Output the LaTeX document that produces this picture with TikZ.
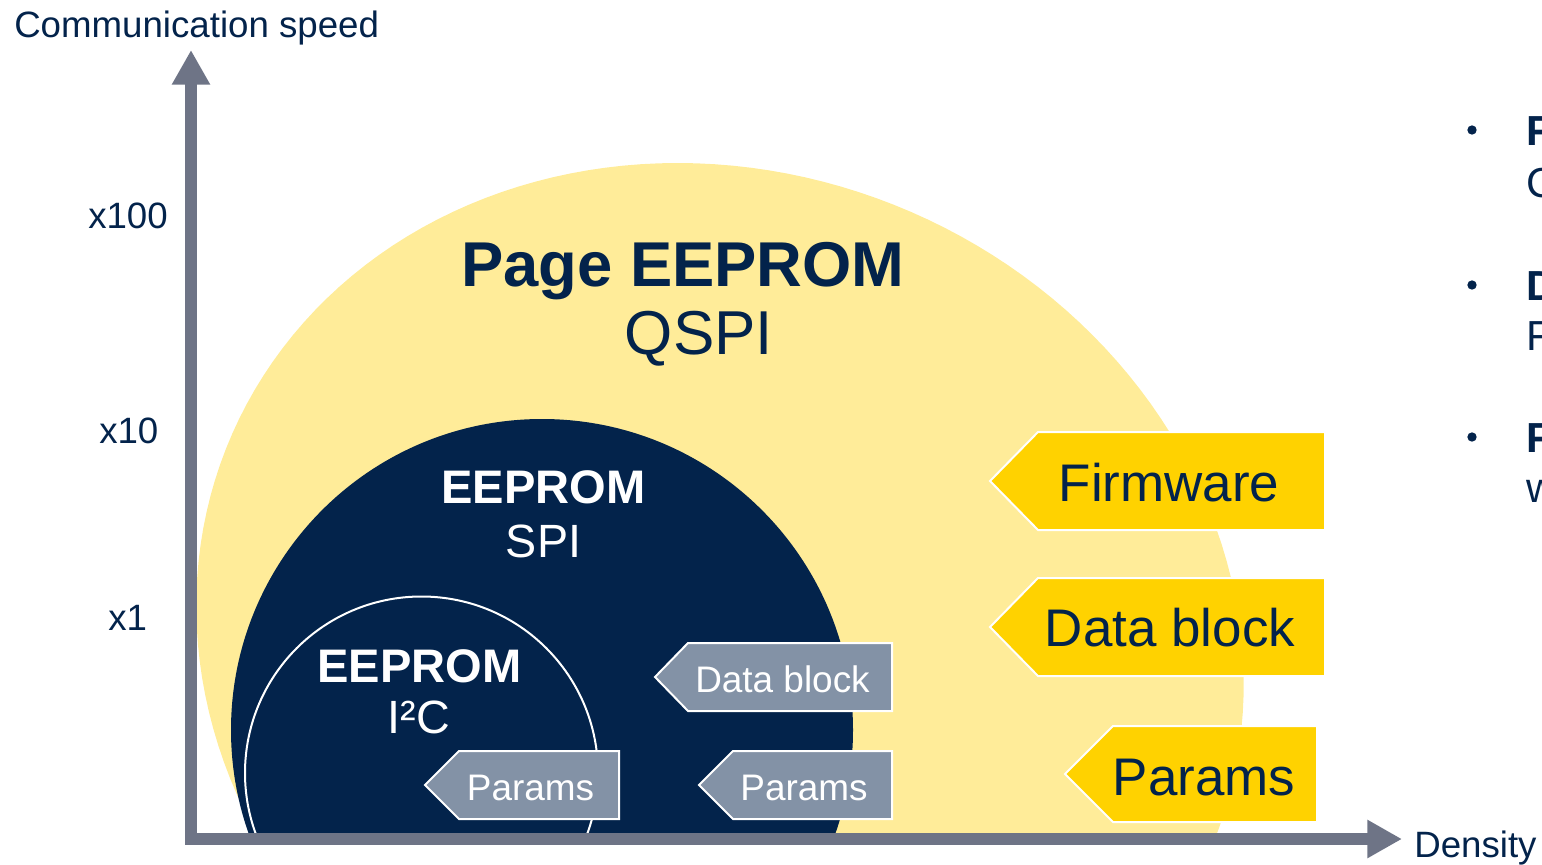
\documentclass[tikz,border=0pt]{standalone}
\usepackage{fontspec}
\setmainfont{Liberation Sans}
\usetikzlibrary{arrows.meta}
\definecolor{navy}{HTML}{03234B}
\definecolor{paleyel}{HTML}{FFEC99}
\definecolor{styel}{HTML}{FFD200}
\definecolor{axisgray}{HTML}{6E7486}
\definecolor{labgray}{HTML}{8392A6}
\tikzset{
  axislbl/.style={text=navy, inner sep=0pt, font=\fontsize{27.5pt}{32pt}\selectfont, anchor=base west},
  bigtitle/.style={text=navy, inner sep=0pt, font=\fontsize{47.5pt}{54pt}\selectfont\bfseries, anchor=base},
  bigsub/.style={text=navy, inner sep=0pt, font=\fontsize{46.5pt}{54pt}\selectfont, anchor=base},
  midtitle/.style={text=white, inner sep=0pt, font=\fontsize{35.3pt}{40pt}\selectfont\bfseries, anchor=base},
  midsub/.style={text=white, inner sep=0pt, font=\fontsize{35pt}{40pt}\selectfont, anchor=base},
  ylabtxt/.style={text=navy, inner sep=0pt, font=\fontsize{39.7pt}{46pt}\selectfont, anchor=base},
  glabtxt/.style={text=white, inner sep=0pt, font=\fontsize{27.7pt}{32pt}\selectfont, anchor=base},
  ylab/.style={fill=styel, draw=white, line width=1.5pt, line join=miter},
  glab/.style={fill=labgray, draw=white, line width=1.5pt, line join=miter},
  axisline/.style={draw=axisgray, line width=8.5pt, line join=miter,
    {Triangle[length=26pt,width=27pt]}-{Triangle[length=26pt,width=27pt]}},
  bul/.style={circle, fill=navy, minimum size=7pt, inner sep=0pt},
  bultxtb/.style={text=navy, inner sep=0pt, font=\fontsize{31.5pt}{36pt}\selectfont\bfseries, anchor=base west},
  bultxt/.style={text=navy, inner sep=0pt, font=\fontsize{31.5pt}{36pt}\selectfont, anchor=base west},
}
\begin{document}
\begin{tikzpicture}[x=0.75pt,y=-0.75pt]
\useasboundingbox (0,0) rectangle (1542,864);
\clip (0,0) rectangle (1542,864);

% shapes, clipped at the axes
\begin{scope}
  \clip (191,0) rectangle (1542,839);
  \fill[paleyel] plot[domain=0:360, samples=181, variable=\t]
     ({720+522*cos(\t)+42.4*sin(\t)}, {645+482*sin(\t)}) -- cycle;
  \node[circle, fill=navy, minimum size=466.5pt, inner sep=0pt] (spi) at (542,730) {};
  \node[circle, fill=navy, draw=white, line width=1.5pt, minimum size=264.75pt, inner sep=0pt] (i2c) at (421.5,773) {};
\end{scope}

% titles
\node[bigtitle] (pagetitle) at (683,286) {Page EEPROM};
\node[bigsub] (qspi) at (699,354) {QSPI};
\node[midtitle] (spititle) at (543.5,503) {EEPROM};
\node[midsub] (spisub) at (543.5,557) {SPI};
\node[midtitle] (i2ctitle) at (419.5,682) {EEPROM};
\node[midsub] (i2csub) at (419,733) {I²C};

% yellow labels
\draw[ylab] (1038,432) -- (1325,432) -- (1325,530) -- (1038,530) -- (990,481) -- cycle;
\node[ylabtxt] (fw) at (1169,501) {Firmware};
\draw[ylab] (1038,578) -- (1325,578) -- (1325,676) -- (1038,676) -- (990,627) -- cycle;
\node[ylabtxt] (dby) at (1170,646) {Data block};
\draw[ylab] (1113,726) -- (1317,726) -- (1317,822) -- (1113,822) -- (1065,774) -- cycle;
\node[ylabtxt] (pry) at (1204,795) {Params};

% gray labels
\draw[glab] (688,643) -- (892,643) -- (892,711) -- (688,711) -- (655,677) -- cycle;
\node[glabtxt] (dbg) at (782.5,692) {Data block};
\draw[glab] (733,751) -- (892,751) -- (892,819) -- (733,819) -- (699,785) -- cycle;
\node[glabtxt] (prg1) at (804,800) {Params};
\draw[glab] (459,751) -- (619,751) -- (619,819) -- (459,819) -- (425,785) -- cycle;
\node[glabtxt] (prg2) at (530.5,800) {Params};

% axes
\coordinate (ytip) at (191,50);
\coordinate (origin) at (191,839);
\coordinate (xtip) at (1402,839);
\draw[axisline] (ytip) -- (origin) -- (xtip);

\node[axislbl] (ylabel) at (14,37) {Communication speed};
\node[axislbl] (xlabel) at (1414,857) {Density};
\node[axislbl] (t100) at (88,228) {x100};
\node[axislbl] (t10) at (99,443) {x10};
\node[axislbl] (t1) at (108,630) {x1};

% cropped bullet list at the right edge
\node[bul] (b1) at (1472,130) {};
\node[bul] (b2) at (1472,285) {};
\node[bul] (b3) at (1472,437) {};
\node[bultxtb] (b1a) at (1526,145) {F};
\node[bultxt] (b1b) at (1526,197) {C};
\node[bultxtb] (b2a) at (1526,300) {D};
\node[bultxt] (b2b) at (1526,350) {F};
\node[bultxtb] (b3a) at (1526,452) {F};
\node[bultxt] (b3b) at (1526,502) {w};
\end{tikzpicture}
\end{document}
